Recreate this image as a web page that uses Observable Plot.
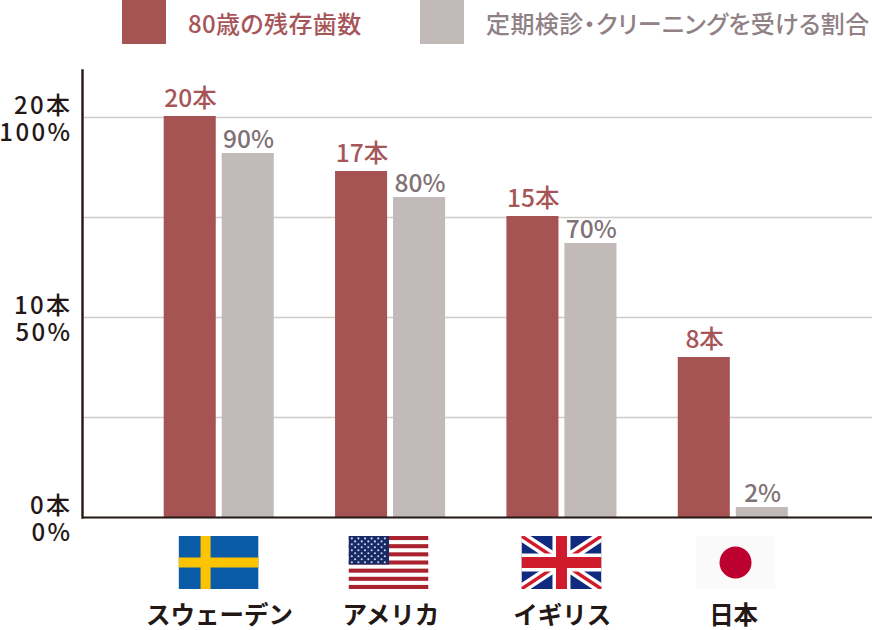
<!DOCTYPE html>
<html lang="ja">
<head>
<meta charset="utf-8">
<script src="https://cdn.jsdelivr.net/npm/d3@7"></script>
<script src="https://cdn.jsdelivr.net/npm/@observablehq/plot@0.6"></script>
<style>
html,body{margin:0;padding:0;background:#fff;overflow:hidden}
body{width:872px;height:630px;font-family:"Noto Sans CJK JP",sans-serif}
#legend{position:relative;height:60px;width:872px}
#legend .sw{position:absolute;top:0;width:44px;height:44px}
#legend .tx{position:absolute;top:0;height:44px;line-height:45px;font-size:24px;font-weight:500;white-space:nowrap;font-feature-settings:"palt";letter-spacing:.38px}
svg{display:block;font-family:"Noto Sans CJK JP",sans-serif}
[aria-label="ytick"]{letter-spacing:2.4px}
</style>
</head>
<body>
<div id="legend"></div>
<div id="chart"></div>
<script>
const countries = ["スウェーデン", "アメリカ", "イギリス", "日本"];
const teeth = [20.05, 17.3, 15.05, 8];
const teethLabels = ["20本", "17本", "15本", "8本"];
const sharePercent = [91, 80, 68.5, 2.5];
const shareLabels = ["90%", "80%", "70%", "2%"];
const yTicks = [0, 10, 20];
const yTickLabels = ["0本\n0%", "10本\n50%", "20本\n100%"];
const gridTicks = [5, 10, 15, 20];
const legendNames = ["80歳の残存歯数", "定期検診・クリーニングを受ける割合"];

const RED = "#a55353", GREY = "#c2b9b9", REDTEXT = "#a65659", GREYTEXT = "#7f7276", INK = "#231815";

const legendLayout = [{sw: 122, tx: 188, c: RED, t: REDTEXT}, {sw: 420, tx: 486, c: GREY, t: "#8f8185"}];
const legend = document.getElementById("legend");
legendNames.forEach((name, i) => {
  const l = legendLayout[i];
  legend.insertAdjacentHTML("beforeend",
    `<div class="sw" style="left:${l.sw}px;background:${l.c}"></div>` +
    `<div class="tx" style="left:${l.tx}px;color:${l.t}">${name}</div>`);
});

function uri(body) {
  return "data:image/svg+xml," + encodeURIComponent(
    `<svg xmlns="http://www.w3.org/2000/svg" viewBox="0 0 80 53" width="80" height="53" preserveAspectRatio="none">${body}</svg>`);
}
function usFlag() {
  let s = `<rect width="80" height="53" fill="#fff"/>`;
  for (let i = 0; i < 13; i += 2) s += `<rect y="${(i * 53 / 13).toFixed(2)}" width="80" height="${(53 / 13).toFixed(2)}" fill="#a8232f"/>`;
  s += `<rect width="40.5" height="28.5" fill="#172a66"/>`;
  for (let r = 0; r < 9; r++) {
    const n = r % 2 ? 5 : 6;
    for (let c = 0; c < n; c++) {
      const cx = (r % 2 ? 6.6 : 3.3) + c * 6.6, cy = 2.4 + r * 2.97;
      s += `<circle cx="${cx.toFixed(1)}" cy="${cy.toFixed(1)}" r="1.05" fill="#c9d6ee"/>`;
    }
  }
  return uri(s);
}
const flags = [
  {dx: -1, src: uri(`<rect width="80" height="53" fill="#0a5ba8"/><rect x="22" width="10" height="53" fill="#fcc400"/><rect y="21.5" width="80" height="10" fill="#fcc400"/>`)},
  {dx: -2.4, src: usFlag()},
  {dx: -0.8, src: uri(`<rect width="80" height="53" fill="#0f2a7f"/><path d="M0 0L80 53M80 0L0 53" stroke="#fff" stroke-width="10"/><path d="M0 0L80 53M80 0L0 53" stroke="#cf1b2b" stroke-width="3.4"/><rect x="31" width="18" height="53" fill="#fff"/><rect y="17.5" width="80" height="18" fill="#fff"/><rect x="34.5" width="11" height="53" fill="#cf1b2b"/><rect y="21" width="80" height="11" fill="#cf1b2b"/>`)},
  {dx: 1.9, src: uri(`<rect width="80" height="53" fill="#fafafa"/><circle cx="40" cy="26.5" r="16" fill="#bc0030"/>`)}
];

const rows = countries.map((c, i) => ({country: c, teeth: teeth[i], tLabel: teethLabels[i], share: sharePercent[i] / 5, sLabel: shareLabels[i]}));

const chart = Plot.plot({
  width: 872, height: 570,
  marginLeft: 83, marginRight: 0, marginTop: 10, marginBottom: 113,
  x: {type: "band", domain: countries, range: [133.4, 818.8], padding: 0, round: false, axis: null},
  y: {domain: [0, 22.35], axis: null},
  marks: [
    Plot.ruleY(gridTicks, {stroke: "#cfcccb", strokeWidth: 1.6}),
    Plot.barY(rows, {x: "country", y: "teeth", fill: RED, insetLeft: 30.3, insetRight: 89}),
    Plot.barY(rows, {x: "country", y: "share", fill: GREY, insetLeft: 88.3, insetRight: 31}),
    Plot.ruleY([0], {stroke: INK, strokeWidth: 2}),
    Plot.frame({anchor: "left", stroke: INK, strokeWidth: 2.4, dx: -1}),
    Plot.text(rows, {x: "country", y: "teeth", text: "tLabel", dx: -29, dy: -17.5, fill: REDTEXT, fontSize: 24.5, fontWeight: 500}),
    Plot.text(rows, {x: "country", y: "share", text: "sLabel", dx: 29, dy: -13.5, fill: GREYTEXT, fontSize: 24.5, fontWeight: 500}),
    Plot.text(yTicks, {y: d => d, text: (d, i) => yTickLabels[i], frameAnchor: "left", textAnchor: "end", dx: -11, dy: 1, lineHeight: 1.13, fill: INK, fontSize: 24, fontWeight: 500, ariaLabel: () => "ytick"}),
    ...flags.map((f, i) => Plot.image([countries[i]], {x: d => d, y: () => 0, src: () => f.src, width: 80, height: 53, dx: f.dx, dy: 45, preserveAspectRatio: "none"})),
    Plot.text(countries, {x: d => d, y: () => 0, text: d => d, dy: 99, fill: INK, fontSize: 24.5, fontWeight: 700})
  ]
});
document.getElementById("chart").append(chart);
</script>
</body>
</html>
